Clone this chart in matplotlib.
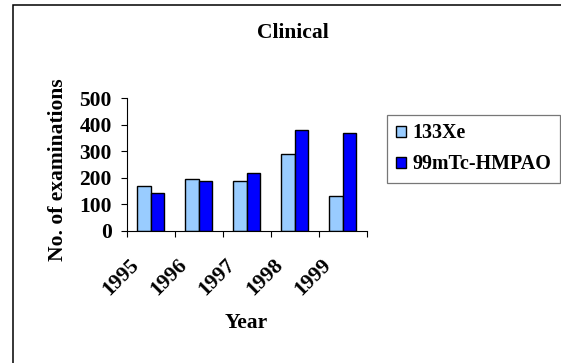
import matplotlib
matplotlib.use("Agg")
import matplotlib.pyplot as plt
import numpy as np
from matplotlib.patches import Rectangle
from matplotlib.transforms import ScaledTranslation

years = ["1995", "1996", "1997", "1998", "1999"]
xe133 = [171, 195, 189, 291, 130]
hmpao = [142, 189, 219, 381, 370]
series_names = ["133Xe", "99mTc-HMPAO"]

plt.rcParams['font.family'] = ['Liberation Serif', 'DejaVu Serif']
plt.rcParams['font.weight'] = 'bold'
fs = 15.5

W, H = 561, 363
fig = plt.figure(figsize=(W / 100, H / 100), dpi=100)
ax = fig.add_axes([126.7 / W, 1 - 231 / H, 240 / W, 132.7 / H])

x = np.arange(len(years))
bw = 0.283
ax.bar(x - bw / 2, xe133, bw, color='#99CCFF', edgecolor='black', linewidth=1.0, label=series_names[0])
ax.bar(x + bw / 2, hmpao, bw, color='#0000FF', edgecolor='black', linewidth=1.0, label=series_names[1])

ax.set_xlim(-0.5, len(years) - 0.5)
ax.set_ylim(0, 500)
ax.set_yticks([0, 100, 200, 300, 400, 500])
ax.tick_params(axis='y', labelsize=fs, length=4.3, width=0.8, pad=6.5)

# ticks between categories, labels at centers
ax.set_xticks(np.arange(-0.5, len(years), 1.0))
ax.set_xticklabels([])
ax.set_xticks(x, minor=True)
ax.set_xticklabels(years, minor=True, rotation=45, ha='right', va='top',
                   rotation_mode='anchor', fontsize=fs)
ax.tick_params(axis='x', which='major', length=4.3, width=0.8)
ax.tick_params(axis='x', which='minor', length=0, pad=17.5)
for lab in ax.get_xticklabels(minor=True):
    lab.set_transform(lab.get_transform() + ScaledTranslation(-0.22, 0, fig.dpi_scale_trans))

for s in ['top', 'right']:
    ax.spines[s].set_visible(False)
for s in ['left', 'bottom']:
    ax.spines[s].set_linewidth(0.8)

for lab in ax.get_yticklabels():
    lab.set_fontweight('bold')

fig.text(293 / W, 1 - 38.3 / H, "Clinical", ha='center', va='baseline', fontsize=fs, fontweight='bold')
fig.text(246.7 / W, 1 - 328.3 / H, "Year", ha='center', va='baseline', fontsize=fs, fontweight='bold')
fig.text(63 / W, 1 - 170 / H, "No. of examinations", rotation=90, ha='center', va='baseline',
         fontsize=fs, fontweight='bold', rotation_mode='anchor')

leg = ax.legend(loc='upper left', bbox_to_anchor=(387.3 / W, 1 - 115 / H),
                bbox_transform=fig.transFigure, fontsize=14.4, frameon=True, fancybox=False,
                handlelength=0.5, handleheight=0.5, handletextpad=0.35,
                borderpad=0.42, labelspacing=0.55, borderaxespad=0)
leg.get_frame().set_edgecolor('#555555')
leg.get_frame().set_linewidth(0.9)
for t in leg.get_texts():
    t.set_fontweight('bold')

fig.add_artist(Rectangle((13 / W, -0.2), 1.0, 1.2 - 5 / H, transform=fig.transFigure,
                         fill=False, edgecolor='black', linewidth=1.1))

fig.savefig("out.png", dpi=100)
